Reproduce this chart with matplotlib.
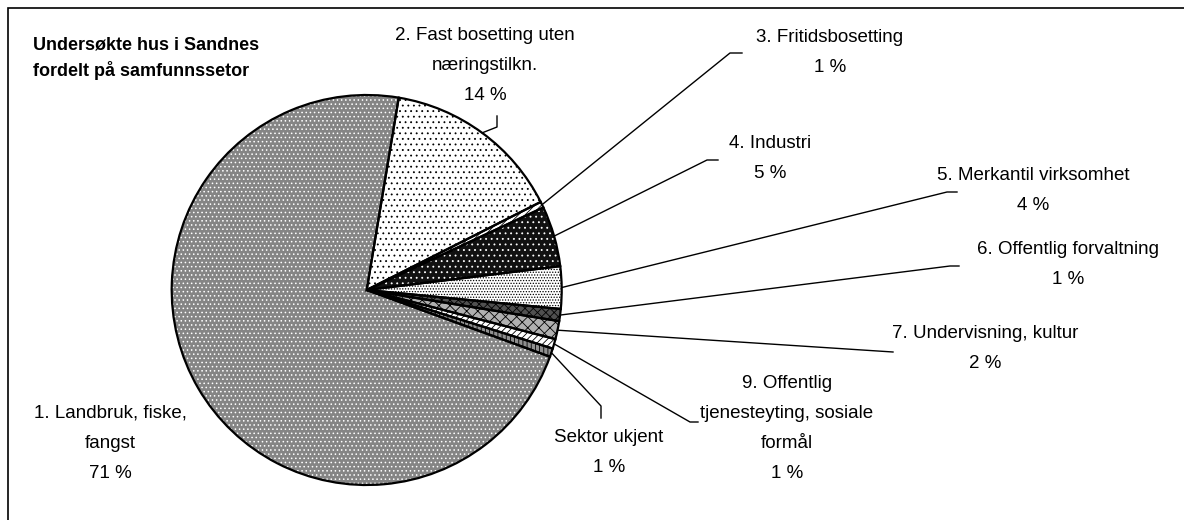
import numpy as np
import matplotlib
matplotlib.use("Agg")
import matplotlib.pyplot as plt
from matplotlib.patches import Rectangle

plt.rcParams['font.family'] = ['Liberation Sans', 'DejaVu Sans']
plt.rcParams['hatch.linewidth'] = 0.6

# sectors, in drawing order (clockwise)
sectors = ["1. Landbruk, fiske,\nfangst",
           "2. Fast bosetting uten\nnæringstilkn.",
           "3. Fritidsbosetting",
           "4. Industri",
           "5. Merkantil virksomhet",
           "6. Offentlig forvaltning",
           "7. Undervisning, kultur",
           "9. Offentlig\ntjenesteyting, sosiale\nformål",
           "Sektor ukjent"]
shares = [72.0, 14.9, 0.5, 5.0, 3.5, 1.0, 1.5, 0.8, 0.7]
pct_labels = ["71 %", "14 %", "1 %", "5 %", "4 %", "1 %", "2 %", "1 %", "1 %"]

title = "Undersøkte hus i Sandnes\nfordelt på samfunnssetor"

W, H = 1184, 520
fig = plt.figure(figsize=(W / 100, H / 100), dpi=100)
ax = fig.add_axes([0, 0, 1, 1])

cx, cy, r = 366.7, H - 290, 195

# fill + hatch style per wedge: (face, hatch colour, hatch)
styles = [("#858585", "white", "...."),
          ("white", "black", "..."),
          ("white", "black", "/////"),
          ("#111111", "white", "..."),
          ("white", "black", "......"),
          ("#505050", "black", "xxxx"),
          ("#b0b0b0", "black", "xxx"),
          ("white", "black", "/////"),
          ("#909090", "black", "||||")]

wedges, _ = ax.pie(shares, center=(cx, cy), radius=r, startangle=-20,
                   counterclock=False, frame=True,
                   wedgeprops=dict(linewidth=0))
for w, (fc, hc, hatch) in zip(wedges, styles):
    w.set_facecolor(fc)
    w.set_edgecolor(hc)
    w.set_hatch(hatch)

# outlines on top
ax.pie(shares, center=(cx, cy), radius=r, startangle=-20,
       counterclock=False, frame=True,
       wedgeprops=dict(fill=False, edgecolor="black", linewidth=1.6))

# label layout in pixel coords (x, first line y), leader line bends
label_pos = [(110, 413), (485, 36), (830, 38), (770, 143), (1033, 176),
             (1068, 250), (985, 334), (787, 383), (609, 437)]
leader_bends = [None,
                [(497, 127), (497, 116)],
                [(730, 53), (742, 53)],
                [(707, 160), (718, 160)],
                [(947, 192), (957, 192)],
                [(950, 266), (959, 266)],
                [(893, 352)],
                [(690, 422), (698, 422)],
                [(601, 406), (601, 418)]]

step = 30
for i, w in enumerate(wedges):
    lines = sectors[i].split("\n") + [pct_labels[i]]
    x0, y0 = label_pos[i]
    for k, line in enumerate(lines):
        ax.text(x0, H - (y0 + k * step), line, ha="center", va="center",
                fontsize=13.5, color="black")
    if leader_bends[i] is None:
        continue
    mid = np.deg2rad((w.theta1 + w.theta2) / 2)
    xs = [cx + r * np.cos(mid)] + [p[0] for p in leader_bends[i]]
    ys = [cy + r * np.sin(mid)] + [H - p[1] for p in leader_bends[i]]
    ax.plot(xs, ys, color="black", linewidth=1.0)

t1, t2 = title.split("\n")
ax.text(33, H - 45, t1, ha="left", va="center", fontsize=13, fontweight="bold")
ax.text(33, H - 70, t2, ha="left", va="center", fontsize=13, fontweight="bold")

# outer chart frame (only left and top edges fall inside the image)
ax.add_patch(Rectangle((8, -20), W + 40, H - 8 + 20, fill=False,
                       edgecolor="black", linewidth=1.2))

ax.set_xlim(0, W)
ax.set_ylim(0, H)
ax.set_aspect("equal")
ax.axis("off")

fig.savefig("out.png", dpi=100, facecolor="white")
